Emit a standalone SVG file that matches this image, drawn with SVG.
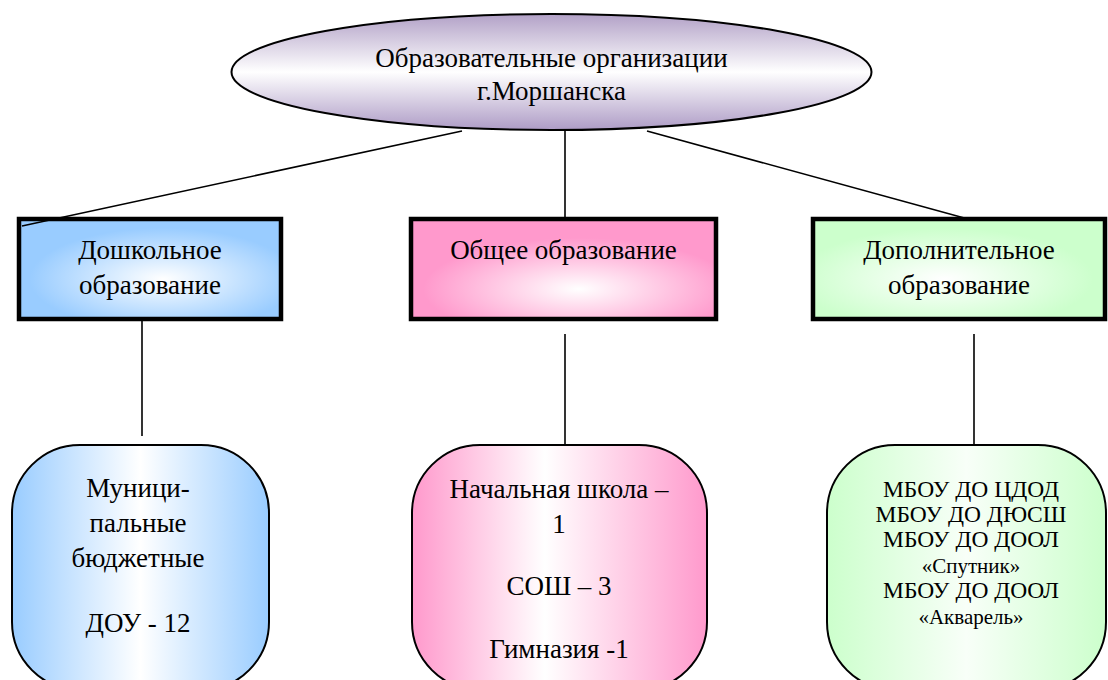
<svg xmlns="http://www.w3.org/2000/svg" width="1108" height="680" viewBox="0 0 1108 680">
<style>
text{font-family:'Liberation Serif','DejaVu Serif',serif;fill:#000;text-anchor:middle}
.t27{font-size:27px}
.t24{font-size:23.5px}
.t21{font-size:21px}
.box{stroke:#000;stroke-width:4.5}
.rbox{stroke:#000;stroke-width:2}
.conn line{stroke:#000;stroke-width:1.6}
</style>
<defs>
<linearGradient id="gEll" x1="0" y1="0" x2="0" y2="1">
<stop offset="0" stop-color="#b2a1c7"/>
<stop offset="0.5" stop-color="#ffffff"/>
<stop offset="1" stop-color="#ae9cc6"/>
</linearGradient>
<radialGradient id="gBlue" cx="0.55" cy="0.6" r="0.6">
<stop offset="0" stop-color="#ffffff"/>
<stop offset="0.85" stop-color="#99ccff"/>
</radialGradient>
<radialGradient id="gPink" cx="0.55" cy="0.7" r="0.6">
<stop offset="0" stop-color="#ffffff"/>
<stop offset="0.85" stop-color="#ff99cc"/>
</radialGradient>
<radialGradient id="gGreen" cx="0.45" cy="0.6" r="0.6">
<stop offset="0" stop-color="#ffffff"/>
<stop offset="0.85" stop-color="#ccffcc"/>
</radialGradient>
<linearGradient id="hBlue" x1="0" y1="0" x2="1" y2="0">
<stop offset="0" stop-color="#99ccff"/>
<stop offset="0.5" stop-color="#ffffff"/>
<stop offset="1" stop-color="#99ccff"/>
</linearGradient>
<linearGradient id="hPink" x1="0" y1="0" x2="1" y2="0">
<stop offset="0" stop-color="#ff99cc"/>
<stop offset="0.45" stop-color="#ffffff"/>
<stop offset="1" stop-color="#ff99cc"/>
</linearGradient>
<linearGradient id="hGreen" x1="0" y1="0" x2="1" y2="0">
<stop offset="0" stop-color="#ccffcc"/>
<stop offset="0.5" stop-color="#f8fff8"/>
<stop offset="1" stop-color="#ccffcc"/>
</linearGradient>
</defs>
<rect width="1108" height="680" fill="#ffffff"/>

<g id="root">
<ellipse cx="551.5" cy="72" rx="320" ry="58" fill="url(#gEll)" stroke="#000" stroke-width="2"/>
<text class="t27" x="551.5" y="67">Образовательные организации</text>
<text class="t27" x="551.5" y="100">г.Моршанска</text>
</g>

<g id="preschool">
<rect class="box" x="19" y="219" width="262" height="100" fill="url(#gBlue)"/>
<text class="t27" x="150" y="259">Дошкольное</text>
<text class="t27" x="150" y="294">образование</text>
</g>

<g id="general">
<rect class="box" x="411" y="219" width="305" height="100" fill="url(#gPink)"/>
<text class="t27" x="563.5" y="259">Общее образование</text>
</g>

<g id="additional">
<rect class="box" x="813" y="219" width="292" height="100" fill="url(#gGreen)"/>
<text class="t27" x="959" y="259">Дополнительное</text>
<text class="t27" x="959" y="294">образование</text>
</g>

<g id="preschool-detail">
<rect class="rbox" x="12" y="445" width="257" height="245" rx="68" ry="68" fill="url(#hBlue)"/>
<text class="t27" x="138" y="497">Муници-</text>
<text class="t27" x="138" y="532">пальные</text>
<text class="t27" x="138" y="567">бюджетные</text>
<text class="t27" x="138" y="632">ДОУ - 12</text>
</g>

<g id="general-detail">
<rect class="rbox" x="412" y="445" width="295" height="245" rx="68" ry="68" fill="url(#hPink)"/>
<text class="t27" x="559" y="498">Начальная школа –</text>
<text class="t27" x="559" y="533">1</text>
<text class="t27" x="559" y="595">СОШ – 3</text>
<text class="t27" x="559" y="658">Гимназия -1</text>
</g>

<g id="additional-detail">
<rect class="rbox" x="827" y="445" width="279" height="245" rx="68" ry="68" fill="url(#hGreen)"/>
<text class="t24" x="971" y="497">МБОУ ДО ЦДОД</text>
<text class="t24" x="971" y="522">МБОУ ДО ДЮСШ</text>
<text class="t24" x="971" y="547">МБОУ ДО ДООЛ</text>
<text class="t21" x="971" y="573">«Спутник»</text>
<text class="t24" x="971" y="598">МБОУ ДО ДООЛ</text>
<text class="t21" x="971" y="624">«Акварель»</text>
</g>

<g id="connectors" class="conn">
<line x1="462" y1="131" x2="22" y2="226"/>
<line x1="565" y1="130" x2="565" y2="219"/>
<line x1="647" y1="131" x2="968" y2="219"/>
<line x1="142" y1="319" x2="142" y2="436"/>
<line x1="565" y1="334" x2="565" y2="445"/>
<line x1="974" y1="334" x2="974" y2="445"/>
</g>
</svg>
